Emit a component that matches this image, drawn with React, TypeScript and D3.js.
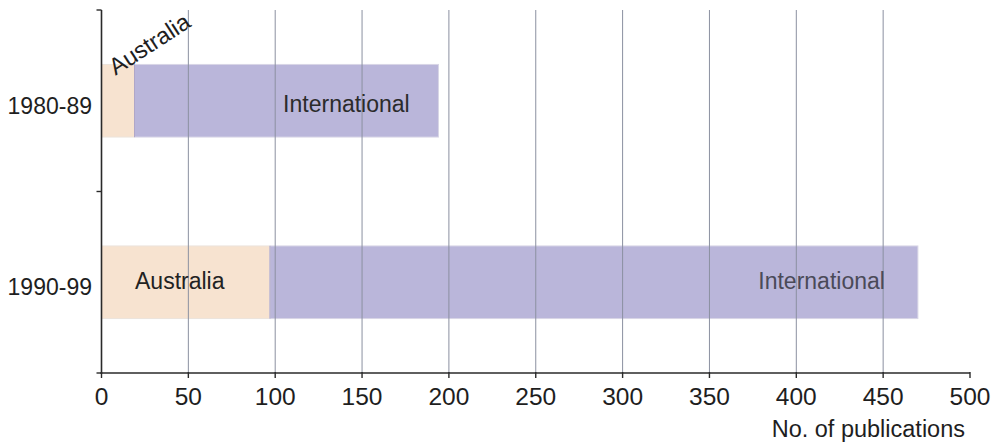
import React from "react";
import * as d3 from "d3";

const periods = ["1980-89", "1990-99"];
const australia = [19, 97];
const international = [175, 373];
const xTicks = [0, 50, 100, 150, 200, 250, 300, 350, 400, 450, 500];

const W = 1007;
const H = 443;
const FONT = "'Liberation Sans', Arial, Helvetica, sans-serif";

export default function App() {
  const x = d3.scaleLinear().domain([0, 500]).range([101.5, 970]);
  const y = d3.scaleBand().domain(periods).range([10, 373]).paddingInner(0).paddingOuter(0);
  const barH = y.bandwidth() * 0.4;
  const axisColor = "#2a2a2a";
  const gridColor = "#8b90a0";
  const fs = 23;

  return (
    <svg width={W} height={H} style={{ position: "absolute", left: 0, top: 0, background: "#fff" }}>
      {/* bars */}
      {periods.map((p, i) => {
        const cy = (y(p) as number) + y.bandwidth() / 2;
        const y0 = cy - barH / 2;
        const a = australia[i];
        const tot = a + international[i];
        return (
          <g key={p}>
            <rect x={x(0)} y={y0} width={x(a) - x(0)} height={barH} fill="#f7e3d0" stroke="#ece3dc" strokeWidth={1} />
            <rect x={x(a)} y={y0} width={x(tot) - x(a)} height={barH} fill="#bab6da" stroke="#d8d6e6" strokeWidth={1} />
            <line x1={x(a)} x2={x(a)} y1={y0} y2={y0 + barH} stroke="#b0a7c8" strokeWidth={1} />
          </g>
        );
      })}
      {/* grid */}
      {xTicks.filter((t) => t > 0 && t < 500).map((t) => (
        <line key={"g" + t} x1={x(t)} x2={x(t)} y1={10} y2={373} stroke={gridColor} strokeWidth={1} />
      ))}
      {/* bar labels */}
      {periods.map((p, i) => {
        const cy = (y(p) as number) + y.bandwidth() / 2;
        const a = australia[i];
        const tot = a + international[i];
        return (
          <g key={"l" + p} fontFamily={FONT} fontSize={fs}>
            {i === 0 ? (
              <>
                <text x={x(141)} y={cy + 11} textAnchor="middle" fill="#2b2b2b">International</text>
                <text transform={`translate(${x(0) + 14},${cy - 25}) rotate(-33)`} fontSize={23.5} fill="#1e1e1e">Australia</text>
              </>
            ) : (
              <>
                <text x={x(tot) - 33} y={cy + 7} textAnchor="end" fill="#4a4a58">International</text>
                <text x={x(a / 2) - 6} y={cy + 7} textAnchor="middle" fill="#222">Australia</text>
              </>
            )}
          </g>
        );
      })}
      {/* y axis */}
      <line x1={x(0)} x2={x(0)} y1={10} y2={374} stroke={axisColor} strokeWidth={1.6} />
      {[10, 191.5, 373].map((v) => (
        <line key={"yt" + v} x1={x(0) - 5} x2={x(0)} y1={v} y2={v} stroke={axisColor} strokeWidth={1.4} />
      ))}
      {periods.map((p) => (
        <text key={"yl" + p} x={92} y={(y(p) as number) + y.bandwidth() / 2 + 13} textAnchor="end" fontFamily={FONT} fontSize={fs} fill="#1e1e1e">{p}</text>
      ))}
      {/* x axis */}
      <line x1={x(0) - 1} x2={x(500)} y1={373} y2={373} stroke={axisColor} strokeWidth={1.6} />
      {xTicks.map((t) => (
        <g key={"xt" + t}>
          <line x1={x(t)} x2={x(t)} y1={372} y2={378} stroke={axisColor} strokeWidth={1.4} />
          <text x={x(t)} y={405} textAnchor="middle" fontFamily={FONT} fontSize={24.5} fill="#1e1e1e">{t}</text>
        </g>
      ))}
      <text x={965} y={437} textAnchor="end" fontFamily={FONT} fontSize={23.5} fill="#1e1e1e">No. of publications</text>
    </svg>
  );
}
